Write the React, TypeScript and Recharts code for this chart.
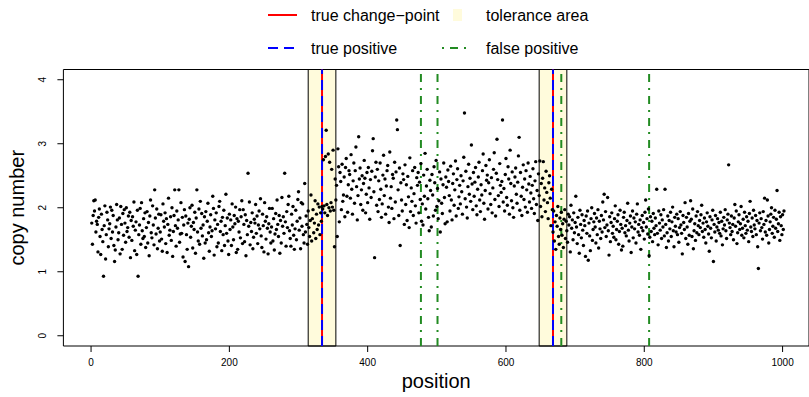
import React from 'react';
import {
  ComposedChart,
  Scatter,
  XAxis,
  YAxis,
  ReferenceLine,
  ReferenceArea,
  Legend,
  Label,
} from 'recharts';

const FONT = '"Liberation Sans", Arial, Helvetica, sans-serif';

// copy numbers, positions 1..333
const segment1Values = [
  1.76, 1.43, 1.88, 2.11, 1.95, 2.12, 1.62, 1.79, 1.74, 1.31, 1.85, 1.98, 1.55, 1.27, 1.90, 1.66, 1.47, 0.93, 1.72, 2.03,
  1.20, 1.58, 1.93, 1.81, 1.39, 1.67, 1.75, 2.01, 1.52, 1.96, 1.62, 1.88, 1.41, 1.16, 1.34, 1.70, 2.05, 1.81, 1.50, 1.61,
  1.84, 1.28, 2.02, 1.74, 1.35, 1.91, 1.57, 1.97, 1.76, 1.46, 2.00, 1.63, 1.69, 1.87, 1.54, 1.93, 1.22, 1.80, 1.49, 1.86,
  1.71, 2.09, 1.33, 1.65, 1.78, 1.27, 1.96, 0.93, 1.58, 1.73, 1.99, 1.43, 2.08, 1.64, 1.52, 1.83, 1.55, 1.92, 1.38, 1.69,
  1.94, 1.45, 1.77, 1.25, 1.87, 2.12, 1.61, 1.53, 2.03, 1.73, 1.42, 2.28, 1.84, 1.59, 1.98, 1.36, 1.68, 1.90, 1.48, 1.62,
  1.89, 1.51, 1.32, 2.06, 1.79, 1.70, 1.92, 1.44, 1.83, 1.30, 1.74, 2.15, 1.57, 1.65, 1.86, 1.49, 2.00, 1.24, 1.63, 1.88,
  2.28, 1.72, 1.40, 1.95, 1.68, 1.81, 2.28, 1.46, 1.59, 2.08, 1.60, 1.85, 1.23, 1.73, 1.97, 1.16, 1.87, 1.58, 1.35, 1.76,
  1.08, 1.82, 2.00, 1.54, 1.71, 2.04, 1.37, 1.77, 1.66, 1.93, 1.29, 1.84, 2.28, 1.62, 1.48, 1.98, 1.43, 2.10, 1.68, 1.91,
  1.56, 1.73, 1.21, 1.86, 1.45, 1.94, 1.50, 1.79, 2.07, 1.61, 1.32, 1.70, 1.89, 1.55, 1.64, 2.18, 1.99, 1.26, 1.81, 1.67,
  1.92, 1.39, 1.74, 1.45, 2.02, 2.10, 1.63, 1.79, 1.33, 1.85, 1.58, 1.96, 1.41, 1.72, 2.21, 1.60, 1.84, 1.48, 1.27, 1.90,
  1.66, 1.81, 1.41, 2.06, 1.70, 1.50, 1.88, 1.75, 2.01, 1.30, 1.83, 1.35, 1.79, 1.62, 1.97, 1.53, 1.86, 2.11, 1.44, 1.97,
  1.74, 1.47, 1.89, 1.25, 1.80, 1.58, 2.54, 1.71, 2.09, 1.42, 1.77, 1.63, 1.92, 1.36, 1.54, 1.82, 1.76, 2.05, 1.60, 1.87,
  1.44, 1.73, 1.95, 1.67, 2.14, 1.56, 1.38, 1.90, 1.72, 1.31, 2.08, 1.79, 1.51, 1.86, 1.68, 1.28, 1.75, 1.99, 1.62, 1.45,
  1.70, 1.99, 1.48, 1.83, 1.34, 1.59, 1.91, 1.66, 2.12, 1.74, 1.55, 1.88, 1.29, 1.80, 1.45, 2.16, 1.71, 1.86, 1.60, 2.54,
  1.78, 1.40, 1.94, 1.69, 2.05, 2.18, 1.64, 1.52, 1.40, 1.90, 1.73, 2.02, 1.57, 1.35, 1.67, 1.96, 1.50, 1.79, 2.13, 2.25,
  1.65, 1.84, 1.36, 2.08, 1.71, 2.06, 1.58, 1.45, 2.38, 1.62, 1.87, 1.74, 1.43, 1.95, 1.69, 1.55, 1.80, 2.20, 1.48, 1.83,
  1.97, 1.61, 1.76, 2.11, 1.52, 1.90, 1.66, 2.06, 1.73, 2.01, 1.58, 1.92, 1.79,
];

// copy numbers, positions 334..667
const segment2Values = [
  2.02, 1.98, 2.75, 2.03, 1.92, 2.80, 3.21, 2.05, 1.88, 2.84, 2.00, 2.71, 1.95, 2.08, 2.60, 2.01, 2.90, 1.96, 1.39, 2.45,
  2.12, 2.35, 1.55, 2.92, 2.64, 1.78, 2.55, 2.41, 1.97, 2.68, 2.10, 2.20, 2.48, 1.86, 2.63, 2.77, 2.18, 1.93, 2.36, 2.58,
  2.52, 2.15, 2.83, 2.29, 1.90, 2.42, 2.70, 2.07, 2.58, 2.95, 2.33, 1.81, 2.19, 3.11, 2.45, 2.62, 2.05, 2.28, 2.50, 1.96,
  2.38, 2.74, 2.46, 1.92, 2.21, 2.55, 2.08, 2.63, 2.31, 1.82, 2.44, 2.16, 2.57, 2.89, 3.08, 2.25, 1.22, 2.48, 2.71, 2.04,
  2.60, 1.94, 2.42, 2.13, 2.70, 2.29, 1.85, 2.06, 2.51, 2.82, 2.19, 2.45, 1.90, 2.34, 2.58, 2.66, 2.01, 1.77, 2.87, 2.15,
  2.33, 1.99, 2.52, 2.46, 1.83, 2.71, 2.09, 2.56, 3.37, 3.22, 2.28, 1.88, 2.62, 1.41, 2.39, 2.12, 1.95, 2.53, 2.44, 1.74,
  2.67, 2.05, 2.36, 1.80, 2.49, 2.17, 1.69, 2.78, 1.94, 2.31, 2.10, 2.58, 1.88, 2.22, 2.63, 2.03, 1.76, 2.47, 2.35, 2.55,
  1.92, 2.40, 2.13, 2.69, 1.79, 2.06, 1.73, 2.51, 2.18, 2.85, 1.98, 2.34, 2.60, 2.14, 1.85, 1.64, 2.43, 2.27, 1.70, 2.52,
  2.20, 1.87, 2.64, 2.39, 1.96, 2.74, 2.02, 2.30, 1.83, 2.11, 2.56, 1.62, 2.45, 2.07, 1.91, 2.36, 2.70, 2.16, 1.75, 2.48,
  2.32, 1.78, 2.59, 2.41, 2.19, 1.95, 2.65, 2.12, 1.81, 2.38, 2.53, 2.04, 2.28, 2.73, 1.87, 2.44, 2.61, 1.99, 2.17, 2.35,
  2.06, 2.50, 2.25, 1.90, 2.42, 2.79, 3.48, 2.14, 2.57, 2.01, 1.84, 2.33, 2.68, 2.21, 2.46, 2.10, 2.98, 2.37, 1.97, 2.55,
  2.18, 2.40, 2.63, 2.03, 1.89, 2.29, 2.48, 2.71, 2.12, 1.94, 2.36, 2.20, 2.58, 2.84, 2.07, 1.82, 2.27, 2.66, 2.43, 2.51,
  1.98, 2.39, 2.75, 2.22, 2.05, 2.47, 1.92, 2.31, 2.60, 2.86, 2.13, 1.87, 2.54, 3.07, 2.44, 2.19, 2.02, 2.69, 2.35, 2.24,
  2.41, 3.37, 2.09, 2.30, 1.95, 2.52, 2.77, 2.16, 2.04, 2.64, 2.45, 1.90, 2.90, 2.38, 2.11, 2.56, 2.00, 1.85, 2.34, 2.48,
  2.62, 2.21, 2.07, 2.40, 2.81, 3.10, 1.96, 2.55, 2.18, 1.88, 2.32, 2.67, 2.13, 2.45, 2.01, 2.58, 2.28, 1.93, 2.70, 2.37,
  2.09, 2.49, 2.23, 1.99, 2.35, 2.61, 2.14, 1.91, 2.42, 2.72, 2.05, 2.27, 1.80, 2.53, 2.19, 2.73, 2.02, 2.38, 1.86, 2.46,
  2.72, 2.12, 2.31, 1.94, 2.57, 2.24, 2.08, 1.83, 2.39, 2.50, 2.15, 1.72, 2.29, 1.97,
];

// copy numbers, positions 668..1000
const segment3Values = [
  1.62, 1.95, 1.48, 1.78, 1.35, 1.88, 1.71, 2.02, 1.55, 1.43, 1.84, 1.66, 1.93, 1.57, 1.75, 1.38, 1.82, 1.97, 1.52, 1.79,
  1.64, 1.46, 1.90, 1.73, 1.86, 1.31, 2.04, 1.68, 1.81, 1.50, 1.92, 1.61, 1.77, 2.18, 1.70, 1.44, 1.85, 1.58, 1.29, 1.96,
  1.74, 1.53, 1.89, 1.65, 1.41, 1.80, 1.72, 1.24, 1.87, 1.60, 1.95, 1.18, 1.76, 1.56, 1.33, 1.83, 2.00, 1.49, 1.66, 1.78,
  1.91, 1.70, 1.45, 1.84, 1.58, 1.97, 1.37, 1.79, 1.67, 1.52, 1.88, 1.62, 2.09, 1.81, 2.21, 1.69, 1.94, 1.55, 1.73, 2.16,
  1.64, 1.26, 1.86, 1.47, 1.77, 1.92, 1.60, 1.71, 1.54, 1.83, 2.03, 1.50, 1.66, 1.79, 1.89, 1.43, 1.63, 1.96, 1.74, 1.34,
  1.68, 1.40, 1.85, 1.93, 1.61, 1.72, 1.56, 1.80, 2.07, 1.65, 1.48, 1.76, 1.87, 1.30, 1.70, 1.95, 1.53, 1.84, 1.67, 1.78,
  1.45, 1.90, 2.06, 1.62, 1.74, 1.57, 1.81, 1.35, 1.69, 1.88, 1.64, 1.77, 1.51, 1.93, 2.12, 1.70, 1.83, 1.59, 1.98, 1.25,
  1.54, 1.86, 1.63, 1.79, 1.47, 1.91, 1.68, 1.58, 1.84, 1.72, 2.29, 1.60, 1.42, 1.95, 1.76, 1.65, 1.89, 1.52, 1.81, 1.70,
  1.97, 1.56, 2.29, 1.74, 1.38, 1.61, 1.87, 1.48, 1.80, 1.67, 1.93, 1.55, 1.78, 2.01, 1.64, 1.39, 1.85, 1.71, 1.62, 1.90,
  1.58, 1.83, 1.46, 1.69, 1.94, 1.73, 1.60, 1.28, 1.88, 1.77, 1.66, 2.08, 1.52, 1.85, 1.70, 1.43, 1.91, 1.57, 1.79, 2.11,
  1.82, 1.55, 1.98, 1.36, 1.64, 1.75, 1.49, 1.87, 1.61, 1.94, 1.72, 1.58, 1.80, 1.69, 1.89, 2.04, 1.63, 1.76, 1.54, 1.84,
  1.66, 1.45, 1.78, 1.92, 1.71, 1.59, 1.32, 1.86, 1.68, 1.53, 1.81, 1.96, 1.16, 1.74, 1.62, 1.88, 1.48, 1.70, 1.83, 1.65,
  1.77, 1.60, 1.93, 1.56, 1.79, 1.42, 1.67, 1.85, 1.73, 1.97, 1.64, 1.52, 1.81, 1.90, 2.67, 1.76, 1.69, 1.58, 1.87, 1.63,
  1.74, 1.50, 1.84, 2.05, 1.71, 1.95, 1.44, 1.61, 1.78, 1.89, 1.66, 1.75, 2.02, 1.57, 1.68, 1.82, 1.53, 1.93, 1.72, 1.60,
  1.86, 1.65, 1.79, 1.47, 1.91, 2.10, 1.70, 1.63, 1.84, 1.55, 1.96, 1.73, 1.67, 1.88, 1.58, 1.80, 1.39, 1.05, 1.76, 1.92,
  1.64, 1.83, 1.69, 1.51, 1.94, 1.74, 2.15, 1.62, 1.80, 1.57, 2.12, 1.87, 1.45, 1.66, 1.78, 1.90, 2.00, 1.60, 1.71, 1.85,
  1.54, 1.96, 1.68, 1.82, 2.27, 1.63, 1.75, 1.93, 1.49, 1.86, 1.72, 1.58, 1.89, 1.66, 1.95,
];

const copyNumbers = [...segment1Values, ...segment2Values, ...segment3Values];

const trueChangePoints = [334, 668];
const toleranceHalfWidth = 20;
const truePositives = [334, 668];
const falsePositives = [477, 501, 680, 807];

const xTicks = [0, 200, 400, 600, 800, 1000];
const yTicks = [0, 1, 2, 3, 4];
const xDomain: [number, number] = [-40, 1038.2];
const yDomain: [number, number] = [-0.16, 4.16];

const data = copyNumbers.map((v, i) => ({ position: i + 1, copy: v }));

const RED = '#FF0000';
const BLUE = '#0000FF';
const GREEN = '#228B22';
const TOL_FILL = '#FFFBDC';

const Dot = (props: any) => {
  if (props.cx == null || props.cy == null) return null;
  return <circle cx={props.cx} cy={props.cy} r={1.7} fill="#000" />;
};

const YTick = (props: any) => {
  const { x, y, payload } = props;
  return (
    <text
      transform={`translate(${x},${y}) rotate(-90)`}
      textAnchor="middle"
      fontSize={10}
      fontFamily={FONT}
      fill="#000"
    >
      {payload.value}
    </text>
  );
};

const LegendContent = () => (
  <svg
    width={809}
    height={64}
    style={{ position: 'absolute', left: 0, top: 0, overflow: 'visible' }}
    fontFamily={FONT}
    fontSize={16}
  >
    <line x1={268} x2={297} y1={15} y2={15} stroke={RED} strokeWidth={2} />
    <text x={311} y={21} fill="#000">true change−point</text>
    <rect x={453} y={9} width={9} height={12} fill={TOL_FILL} />
    <text x={486} y={21} fill="#000">tolerance area</text>
    <line x1={268} x2={294} y1={48} y2={48} stroke={BLUE} strokeWidth={2} strokeDasharray="10 6" />
    <text x={311} y={54} fill="#000">true positive</text>
    <line x1={442} x2={469} y1={48} y2={48} stroke={GREEN} strokeWidth={2} strokeDasharray="2 6 8 6" />
    <text x={486} y={54} fill="#000">false positive</text>
  </svg>
);

export default function App() {
  return (
    <div style={{ position: 'absolute', left: 0, top: 0, width: 809, height: 397, background: '#fff' }}>
      <ComposedChart
        width={809}
        height={397}
        data={data}
        margin={{ top: 69.5, right: 0, bottom: 0, left: 0.4 }}
      >
        <XAxis
          dataKey="position"
          type="number"
          domain={xDomain}
          ticks={xTicks}
          allowDataOverflow
          axisLine={false}
          tickLine={{ stroke: '#000' }}
          tickSize={6}
          tickMargin={7}
          height={51}
          tick={{ fontSize: 10, fill: '#000', fontFamily: FONT }}
        >
          <Label
            content={(p: any) => {
              const vb = p.viewBox;
              return (
                <text
                  x={vb.x + vb.width / 2}
                  y={388}
                  textAnchor="middle"
                  fontSize={20}
                  fontFamily={FONT}
                  fill="#000"
                >
                  position
                </text>
              );
            }}
          />
        </XAxis>
        <YAxis
          dataKey="copy"
          type="number"
          domain={yDomain}
          ticks={yTicks}
          allowDataOverflow
          axisLine={false}
          tickLine={{ stroke: '#000' }}
          tickSize={6}
          tickMargin={11}
          width={63}
          tick={<YTick />}
        >
          <Label
            content={(p: any) => {
              const vb = p.viewBox;
              const cy = vb.y + vb.height / 2;
              return (
                <text
                  transform={`translate(24,${cy}) rotate(-90)`}
                  textAnchor="middle"
                  fontSize={20}
                  fontFamily={FONT}
                  fill="#000"
                >
                  copy number
                </text>
              );
            }}
          />
        </YAxis>
        <Legend content={<LegendContent />} wrapperStyle={{ position: 'absolute', left: 0, top: 0, width: 0, height: 0 }} />
        {trueChangePoints.map((cp) => (
          <ReferenceArea
            key={`tol-${cp}`}
            x1={cp - toleranceHalfWidth}
            x2={cp + toleranceHalfWidth}
            y1={yDomain[0]}
            y2={yDomain[1]}
            fill={TOL_FILL}
            fillOpacity={1}
            stroke="#000"
            strokeWidth={1}
          />
        ))}
        <Scatter dataKey="copy" shape={<Dot />} isAnimationActive={false} />
        {trueChangePoints.map((cp) => (
          <ReferenceLine key={`cp-${cp}`} x={cp} stroke={RED} strokeWidth={2} />
        ))}
        {truePositives.map((tp) => (
          <ReferenceLine key={`tp-${tp}`} x={tp} stroke={BLUE} strokeWidth={2} strokeDasharray="10 6" />
        ))}
        {falsePositives.map((fp) => (
          <ReferenceLine key={`fp-${fp}`} x={fp} stroke={GREEN} strokeWidth={2} strokeDasharray="8 6 2 6" />
        ))}
        <ReferenceArea
          x1={xDomain[0]}
          x2={xDomain[1]}
          y1={yDomain[0]}
          y2={yDomain[1]}
          fill="none"
          stroke="#000"
          strokeWidth={1}
        />
      </ComposedChart>
    </div>
  );
}
